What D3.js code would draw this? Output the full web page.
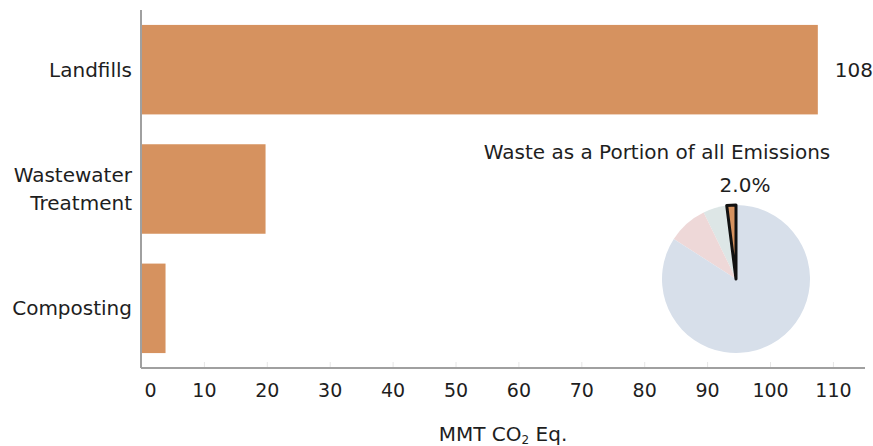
<!DOCTYPE html>
<html>
  <head>
    <meta charset="utf-8">
    <script src="https://d3js.org/d3.v7.min.js"></script>
    <style>
      body { margin: 0px; background: #fff; overflow: hidden; }
      svg { display: block; }
      text { font-family: 'DejaVu Sans', Verdana, sans-serif; fill: #1e1e1e; }
      .tick line { stroke: #e6e6e6; }
      .tick text { font-size: 19px; }
      .cat-label, .axis-label, .pie-title, .value-label { font-size: 20px; }
    </style>
  </head>
  <body>
    <svg width="873" height="446"></svg>
    <script>
      // bar data
      const categories = ['Landfills', 'Wastewater\nTreatment', 'Composting'];
      const values = [107.6, 19.8, 3.9];
      const valueLabels = ['108', '', ''];
      const xTicks = [0, 10, 20, 30, 40, 50, 60, 70, 80, 90, 100, 110];

      // inset pie: share of all emissions, going counter-clockwise from the top
      const pieNames = ['Waste', 'Other A', 'Other B', 'Rest'];
      const pieShares = [2.0, 5.2, 8.7, 84.1];
      const pieColors = ['#d6925f', '#dde6e6', '#eed8d8', '#d7dfea'];

      const svg = d3.select('svg');
      const margin = { left: 141, right: 8, top: 10, bottom: 78 };
      const width = +svg.attr('width');
      const height = +svg.attr('height');
      const innerWidth = width - margin.left - margin.right;
      const innerHeight = height - margin.top - margin.bottom;

      const g = svg.append('g')
          .attr('transform', `translate(${margin.left},${margin.top})`);

      const xScale = d3.scaleLinear()
        .domain([0, 115.1])
        .range([0, innerWidth]);

      const yScale = d3.scaleBand()
        .domain(categories)
        .range([0, innerHeight])
        .paddingInner(0.25)
        .paddingOuter(0.125);

      const xAxis = d3.axisBottom(xScale)
        .tickValues(xTicks)
        .tickSize(-6)
        .tickPadding(13)
        .tickFormat(d3.format('d'));

      const xAxisG = g.append('g')
          .attr('transform', `translate(0,${innerHeight})`)
          .call(xAxis);
      xAxisG.select('.domain').remove();
      xAxisG.selectAll('.tick text')
          .attr('dx', d => d === 0 ? 9 : 0)
          .attr('dy', '0.85em');

      // bars
      g.selectAll('rect.bar').data(values)
        .enter().append('rect')
          .attr('class', 'bar')
          .attr('x', 0)
          .attr('y', (d, i) => yScale(categories[i]))
          .attr('width', d => xScale(d))
          .attr('height', yScale.bandwidth())
          .attr('fill', '#d6925f');

      g.selectAll('text.value-label').data(values)
        .enter().append('text')
          .attr('class', 'value-label')
          .attr('x', d => xScale(d) + 17)
          .attr('y', (d, i) => yScale(categories[i]) + yScale.bandwidth() / 2)
          .attr('dy', '0.35em')
          .text((d, i) => valueLabels[i]);

      // category labels (multi-line)
      const catG = g.selectAll('text.cat-label').data(categories)
        .enter().append('text')
          .attr('class', 'cat-label')
          .attr('text-anchor', 'end')
          .attr('x', -9)
          .attr('y', d => yScale(d) + yScale.bandwidth() / 2);
      catG.each(function(d) {
        const lines = d.split('\n');
        const t = d3.select(this);
        lines.forEach((line, k) => {
          t.append('tspan')
            .attr('x', -9)
            .attr('dy', k === 0 ? (0.35 - (lines.length - 1) * 0.7) + 'em' : '1.4em')
            .text(line);
        });
      });

      // axis lines
      g.append('line')
        .attr('x1', 0).attr('x2', 0)
        .attr('y1', 0).attr('y2', innerHeight)
        .attr('stroke', '#a0a0a0').attr('stroke-width', 2);
      g.append('line')
        .attr('x1', 0).attr('x2', innerWidth)
        .attr('y1', innerHeight).attr('y2', innerHeight)
        .attr('stroke', '#a0a0a0').attr('stroke-width', 2);

      g.append('text')
        .attr('class', 'axis-label')
        .attr('x', innerWidth / 2)
        .attr('y', innerHeight + 73)
        .attr('text-anchor', 'middle')
        .html('MMT CO<tspan font-size="12px" dy="3">2</tspan><tspan dy="-3"> Eq.</tspan>');

      // inset pie
      const pieCx = 736, pieCy = 279, pieR = 74;
      const pie = d3.pie().sort(null).startAngle(0).endAngle(-2 * Math.PI);
      const arcs = pie(pieShares);
      const arc = d3.arc().innerRadius(0).outerRadius(pieR);
      const pieG = svg.append('g')
          .attr('transform', `translate(${pieCx},${pieCy})`);

      pieG.selectAll('path').data(arcs)
        .enter().append('path')
          .attr('d', arc)
          .attr('fill', (d, i) => pieColors[i])
          .attr('stroke', (d, i) => i === 0 ? '#111' : 'none')
          .attr('stroke-width', 3)
          .attr('stroke-linejoin', 'round')
          .sort((a, b) => (a.index === 0) - (b.index === 0));

      svg.append('text')
        .attr('class', 'pie-title')
        .attr('x', 657)
        .attr('y', 159)
        .attr('text-anchor', 'middle')
        .text('Waste as a Portion of all Emissions');

      svg.append('text')
        .attr('class', 'pie-title')
        .attr('x', 745)
        .attr('y', 192)
        .attr('text-anchor', 'middle')
        .text(d3.format('.1f')(pieShares[0]) + '%');
    </script>
  </body>
</html>
